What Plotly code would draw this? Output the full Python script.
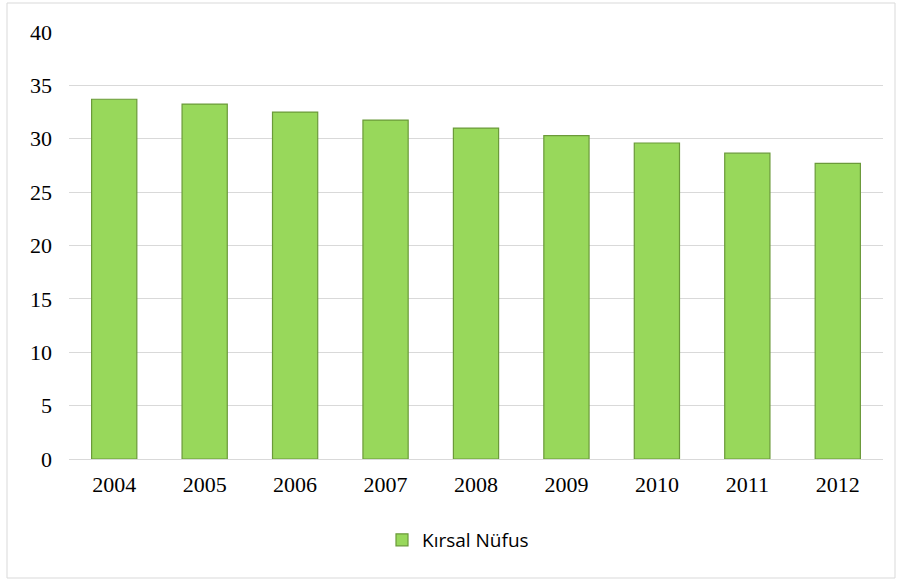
import plotly.graph_objects as go

years = ["2004", "2005", "2006", "2007", "2008", "2009", "2010", "2011", "2012"]
kirsal_nufus = [33.7, 33.25, 32.5, 31.75, 31.0, 30.3, 29.6, 28.65, 27.7]
y_ticks = [0, 5, 10, 15, 20, 25, 30, 35, 40]
series_name = "Kırsal Nüfus"

fig = go.Figure()
fig.add_trace(go.Bar(
    x=years, y=kirsal_nufus, name=series_name,
    marker=dict(color="#98D85B", line=dict(color="#6B9A3A", width=1.2)),
    width=0.5,
))

W, H = 903, 579
L, R, T, B = 69, 20, 32, 120
pw, ph = W - L - R, H - T - B

def px_x(x):
    return (x - L) / pw

def px_y(y):
    return (H - B - y) / ph

fig.add_shape(type="rect", xref="paper", yref="paper",
              x0=px_x(7), x1=px_x(895), y0=px_y(578), y1=px_y(3),
              line=dict(color="#D9D9D9", width=1), fillcolor="rgba(0,0,0,0)", layer="below")

fig.update_layout(
    width=W, height=H,
    margin=dict(l=L, r=R, t=T, b=B, autoexpand=False),
    paper_bgcolor="white", plot_bgcolor="white",
    showlegend=True,
    legend=dict(orientation="h", x=px_x(458), xanchor="center", y=px_y(540), yanchor="middle",
                font=dict(family="Open Sans, Liberation Sans, sans-serif", size=19, color="black"),
                itemwidth=30),
    font=dict(family="Liberation Serif, Times New Roman, serif", size=22, color="black"),
    bargap=0.5,
)
fig.update_yaxes(range=[0, 40], tickvals=y_ticks, showgrid=True, gridcolor="#D9D9D9", gridwidth=1,
                 zeroline=True, zerolinecolor="#D9D9D9", zerolinewidth=1, showline=False,
                 ticks="", ticklen=0, tickfont=dict(size=22), ticklabelstandoff=16,
                 automargin=False, fixedrange=True)
fig.update_xaxes(showgrid=False, showline=False, ticks="", tickfont=dict(size=22),
                 ticklabelstandoff=10, automargin=False)

fig.write_html("out.html", config={"displayModeBar": False},
               post_script="document.body.style.margin='0';document.body.style.padding='0';")
